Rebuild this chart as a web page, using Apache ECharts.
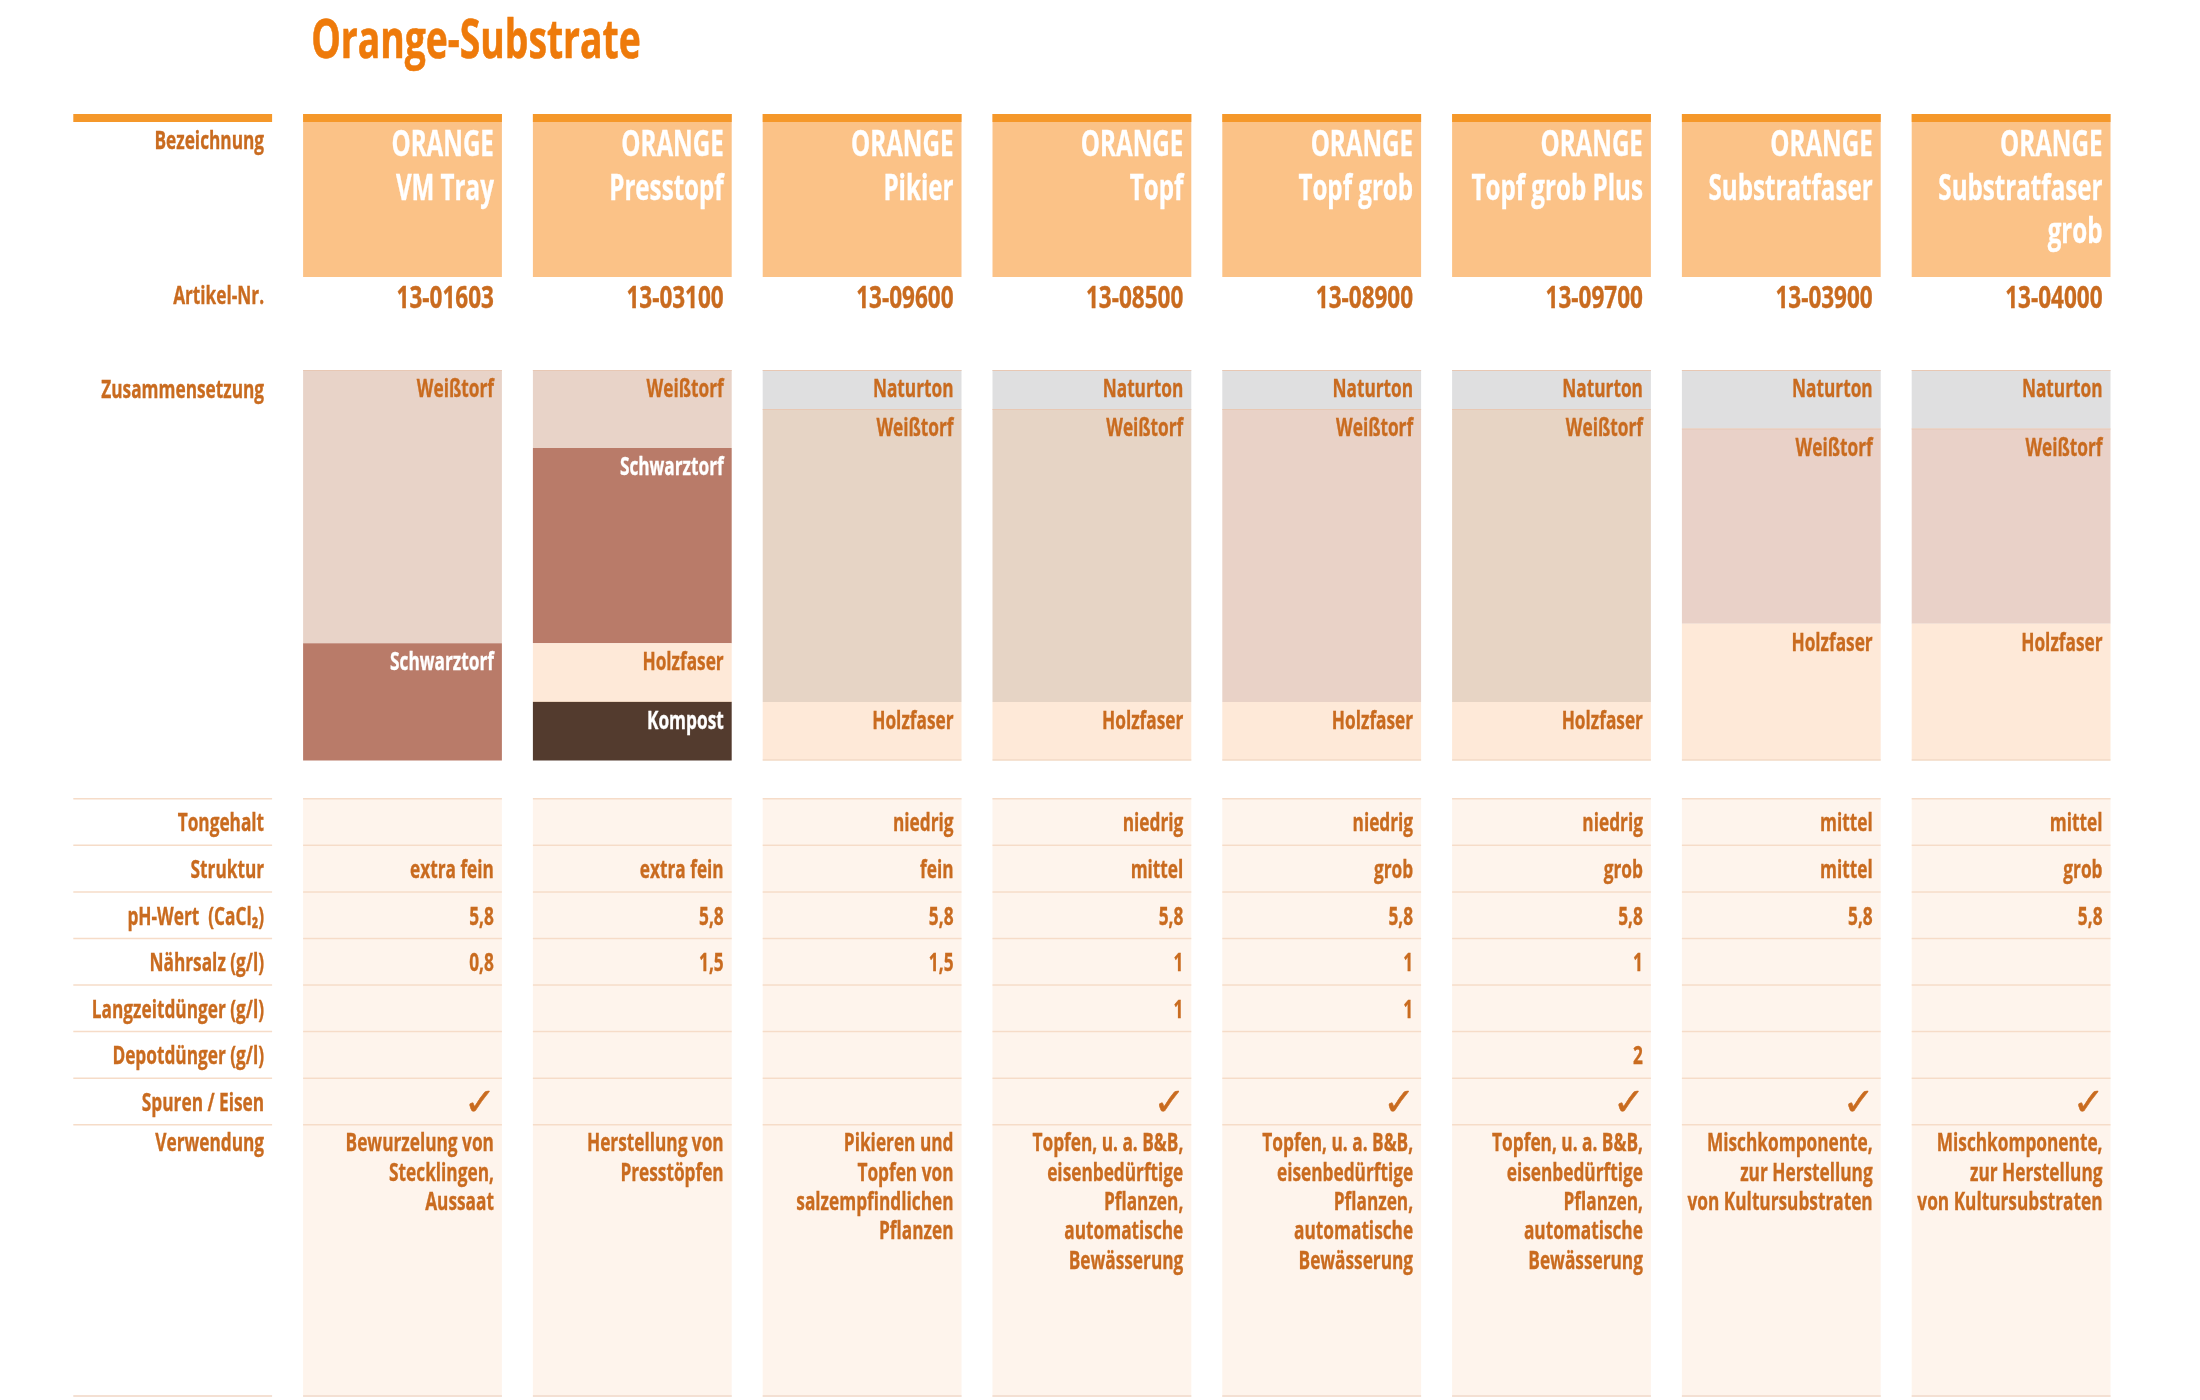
<!DOCTYPE html>
<html><head><meta charset="utf-8"><style>html,body{margin:0;background:#fff}#c{width:2200px;height:1400px}</style>
<script src="https://cdn.jsdelivr.net/npm/echarts@6/dist/echarts.min.js"></script></head>
<body><div id="c"></div><script>
const chartTitle = 'Orange-Substrate';
const products = [['ORANGE','VM Tray'],['ORANGE','Presstopf'],['ORANGE','Pikier'],['ORANGE','Topf'],['ORANGE','Topf grob'],['ORANGE','Topf grob Plus'],['ORANGE','Substratfaser'],['ORANGE','Substratfaser','grob']];
const articleNos = ['13-01603','13-03100','13-09600','13-08500','13-08900','13-09700','13-03900','13-04000'];
const naturton    = [null,null,10,10,10,10,15,15];
const weisstorf   = [70,20,75,75,75,75,50,50];
const schwarztorf = [30,50,null,null,null,null,null,null];
const holzfaser   = [null,15,15,15,15,15,35,35];
const kompost     = [null,15,null,null,null,null,null,null];
const rowLabels = ['Tongehalt','Struktur','pH-Wert  (CaCl₂)','Nährsalz (g/l)','Langzeitdünger (g/l)','Depotdünger (g/l)','Spuren / Eisen'];
const tongehalt = ['','','niedrig','niedrig','niedrig','niedrig','mittel','mittel'];
const struktur  = ['extra fein','extra fein','fein','mittel','grob','grob','mittel','grob'];
const phWert    = ['5,8','5,8','5,8','5,8','5,8','5,8','5,8','5,8'];
const naehrsalz = ['0,8','1,5','1,5','1','1','1','',''];
const langzeit  = ['','','','1','1','','',''];
const depot     = ['','','','','','2','',''];
const spuren    = ['✓','','','✓','✓','✓','✓','✓'];
const verwendung = [
 ['Bewurzelung von','Stecklingen,','Aussaat'],
 ['Herstellung von','Presstöpfen'],
 ['Pikieren und','Topfen von','salzempfindlichen','Pflanzen'],
 ['Topfen, u. a. B&B,','eisenbedürftige','Pflanzen,','automatische','Bewässerung'],
 ['Topfen, u. a. B&B,','eisenbedürftige','Pflanzen,','automatische','Bewässerung'],
 ['Topfen, u. a. B&B,','eisenbedürftige','Pflanzen,','automatische','Bewässerung'],
 ['Mischkomponente,','zur Herstellung','von Kultursubstraten'],
 ['Mischkomponente,','zur Herstellung','von Kultursubstraten']];
const labelHeader='Bezeichnung', labelArticle='Artikel-Nr.', labelComposition='Zusammensetzung', labelUse='Verwendung';

const tableValues=[tongehalt,struktur,phWert,naehrsalz,langzeit,depot,spuren];
const FONT='"Open Sans"', INK='#C96B1F', RULE='#F6DCC8', CELL='#FEF4EC', HEAD='#FBC287', BAR='#F5982A';
const SX=0.69;
const xCats=['',...products.map(p=>p.join(' '))];
const colRatio=198.8/229.8, pad=8;
function colBox(api,c){const band=api.size([1,0])[0];const cx=api.coord([c,0])[0];const w=band*colRatio;return {x:cx-w/2,w,r:cx+w/2-pad};}
function txt(text,x,y,size,fill,scale){return {type:'text',x,y,scaleX:scale===undefined?SX:scale,silent:true,style:{text,x:0,y:0,align:'right',verticalAlign:'middle',fontFamily:FONT,fontWeight:'bold',fontSize:size,fill,stroke:fill,lineWidth:0.35}};}
function rect(x,y,w,h,fill){return {type:'rect',silent:true,shape:{x,y,width:w,height:h},style:{fill}};}

const G=(top,height)=>({left:57.8,width:2068.2,top,height});
const grid=[G(114,163),G(277,40),G(370,390.5),G(798,326),G(1124,273)];
const xAxis=grid.map((g,i)=>({type:'category',gridIndex:i,data:xCats,show:false}));
const yAxis=[
 {type:'category',gridIndex:0,data:[labelHeader],show:false},
 {type:'category',gridIndex:1,data:[labelArticle],show:false},
 {type:'value',gridIndex:2,min:0,max:100,inverse:true,show:false},
 {type:'category',gridIndex:3,data:rowLabels,inverse:true,show:false},
 {type:'category',gridIndex:4,data:[labelUse],show:false}];

const idx=n=>Array.from({length:n},(_,i)=>i);
const cols=idx(9);
const series=[];
// Header
series.push({type:'custom',name:labelHeader,xAxisIndex:0,yAxisIndex:0,silent:true,clip:false,data:cols.map(c=>[c,0]),encode:{x:0,y:1},
 renderItem(p,api){const c=api.value(0),b=colBox(api,c),h=api.size([0,1])[1],top=api.coord([c,0])[1]-h/2,kids=[];
  if(c>0)kids.push(rect(b.x,top,b.w,h,HEAD));
  kids.push(rect(b.x,top,b.w,8,BAR));
  if(c===0)kids.push(txt(labelHeader,b.r,top+28,25,INK));
  else products[c-1].forEach((l,i)=>kids.push(txt(l,b.r,top+32.5+i*43.5,35,'#fff')));
  return {type:'group',children:kids};}});
// Article numbers
series.push({type:'custom',name:labelArticle,xAxisIndex:1,yAxisIndex:1,silent:true,clip:false,data:cols.map(c=>[c,0]),encode:{x:0,y:1},
 renderItem(p,api){const c=api.value(0),b=colBox(api,c),y=api.coord([c,0])[1];
  return c===0?txt(labelArticle,b.r,y,25,INK):txt(articleNos[c-1],b.r,y+2,30,INK,0.75);}});
// Composition
const comp=[['Naturton',naturton,'#DFDFE0',INK,true,false],['Weißtorf',weisstorf,null,INK,true,false],['Schwarztorf',schwarztorf,'#B97B69','#fff',false,false],['Holzfaser',holzfaser,'#FEE9D8',INK,false,true],['Kompost',kompost,'#533B2E','#fff',false,false]];
const weissCols=['#E8D3C8','#E8D3C8','#E6D4C5','#E6D4C5','#E9D2C7','#E7D4C4','#E9D1C8','#E9D1C8'];
comp.forEach(([name,vals,color])=>series.push({type:'bar',name,xAxisIndex:2,yAxisIndex:2,stack:'mix',barWidth:198.8,silent:true,
 data:[null,...vals.map((v,i)=>v==null?null:{value:v,itemStyle:{color:color||weissCols[i]}})]}));
const segs=[];
products.forEach((_,i)=>{let s=0;comp.forEach(([name,vals,,ink,rule,bottom])=>{const v=vals[i];if(v==null)return;segs.push({c:i+1,s,e:s+v,name,ink,rule,bottom});s+=v;});});
series.push({type:'custom',name:'Anteile',xAxisIndex:2,yAxisIndex:2,silent:true,clip:false,data:segs.map(g=>[g.c,g.s,g.e]),encode:{x:0,y:1},z:5,
 renderItem(p,api){const g=segs[p.dataIndex],b=colBox(api,g.c),t=api.coord([g.c,g.s])[1],e=api.coord([g.c,g.e])[1],kids=[];
  if(g.rule)kids.push(rect(b.x,t,b.w,1,'#E8C8B4'));
  if(g.bottom)kids.push(rect(b.x,e-1,b.w,1,'#EBD2BC'));
  kids.push(txt(g.name,b.r,t+20,25,g.ink));
  return {type:'group',children:kids};}});
series.push({type:'custom',name:labelComposition,xAxisIndex:2,yAxisIndex:2,silent:true,clip:false,data:[[0,0]],encode:{x:0,y:1},
 renderItem(p,api){const b=colBox(api,0),t=api.coord([0,0])[1];return txt(labelComposition,b.r,t+21,25,INK);}});
// Table rows
const cells=[];rowLabels.forEach((l,r)=>{cells.push({c:0,r,t:l});tableValues[r].forEach((t,i)=>cells.push({c:i+1,r,t}));});
series.push({type:'custom',name:'Eigenschaften',xAxisIndex:3,yAxisIndex:3,silent:true,clip:false,data:cells.map(g=>[g.c,g.r]),encode:{x:0,y:1},
 renderItem(p,api){const g=cells[p.dataIndex],b=colBox(api,g.c),h=api.size([0,1])[1],cy=api.coord([g.c,g.r])[1],top=cy-h/2,kids=[];
  if(g.c>0)kids.push(rect(b.x,top,b.w,h,CELL));
  kids.push(rect(b.x,top,b.w,1.5,RULE));
  if(g.t==='✓')kids.push({type:'text',x:b.r+2,y:cy+4,silent:true,style:{text:g.t,align:'right',verticalAlign:'middle',fontFamily:'"DejaVu Sans"',fontSize:38,fill:INK,stroke:INK,lineWidth:0.5}});
  else if(g.t)kids.push(txt(g.t,b.r,cy+3,25,INK));
  return {type:'group',children:kids};}});
// Use row
series.push({type:'custom',name:labelUse,xAxisIndex:4,yAxisIndex:4,silent:true,clip:false,data:cols.map(c=>[c,0]),encode:{x:0,y:1},
 renderItem(p,api){const c=api.value(0),b=colBox(api,c),h=api.size([0,1])[1],top=api.coord([c,0])[1]-h/2,kids=[];
  if(c>0)kids.push(rect(b.x,top,b.w,h,CELL));
  kids.push(rect(b.x,top,b.w,1.5,RULE));
  kids.push(rect(b.x,top+h-2,b.w,2,'#F4E0D3'));
  if(c===0)kids.push(txt(labelUse,b.r,top+20,25,INK));
  else verwendung[c-1].forEach((l,i)=>kids.push(txt(l,b.r,top+20+i*29.4,25,INK)));
  return {type:'group',children:kids};}});

const chart=echarts.init(document.getElementById('c'),null,{renderer:'canvas'});
chart.setOption({animation:false,backgroundColor:'#fff',tooltip:{show:false},grid,xAxis,yAxis,series,
 graphic:[{type:'text',left:311,top:15,scaleX:SX,silent:true,style:{text:chartTitle,fontFamily:FONT,fontWeight:'bold',fontSize:54,fill:'#EE7A0A',stroke:'#EE7A0A',lineWidth:0.6}}]});
</script></body></html>
